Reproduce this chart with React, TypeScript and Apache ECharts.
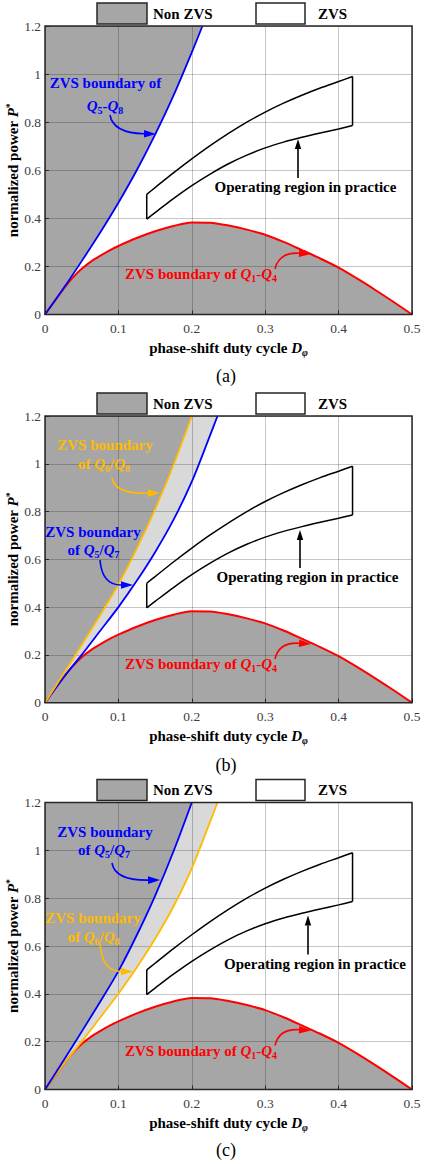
import React, { useEffect, useRef } from 'react';
import * as echarts from 'echarts';

type Pt = [number, number];

// Axis ticks
const dutyTicks = [0, 0.1, 0.2, 0.3, 0.4, 0.5];
const powerTicks = [0, 0.2, 0.4, 0.6, 0.8, 1, 1.2];

// ZVS boundary of the primary switches Q1-Q4 (duty cycle, normalized power)
const q1q4Boundary: Pt[] = [
  [0, 0], [0.0125, 0.053], [0.025, 0.105], [0.0375, 0.152], [0.05, 0.19], [0.0625, 0.22],
  [0.075, 0.244], [0.0875, 0.266], [0.1, 0.285], [0.125, 0.318], [0.15, 0.346], [0.175, 0.368],
  [0.2, 0.383], [0.225, 0.382], [0.25, 0.37], [0.275, 0.353], [0.3, 0.332], [0.325, 0.302],
  [0.35, 0.268], [0.375, 0.233], [0.4, 0.195], [0.425, 0.15], [0.45, 0.102], [0.475, 0.052],
  [0.5, 0],
];

// ZVS boundary of Q5-Q8 (symmetric case)
const q5q8Boundary: Pt[] = [
  [0, 0], [0.025, 0.108], [0.05, 0.222], [0.075, 0.34], [0.1, 0.465], [0.125, 0.6],
  [0.15, 0.748], [0.175, 0.91], [0.2, 1.09], [0.2145, 1.2],
];

// Split boundaries: the steeper and the shallower of Q5/Q7 and Q6/Q8
const steepBoundary: Pt[] = [
  [0, 0], [0.025, 0.12], [0.05, 0.242], [0.075, 0.366], [0.1, 0.495], [0.125, 0.645],
  [0.15, 0.81], [0.175, 0.995], [0.2, 1.2],
];
const shallowBoundary: Pt[] = [
  [0, 0], [0.025, 0.105], [0.05, 0.2], [0.075, 0.3], [0.1, 0.4], [0.125, 0.51],
  [0.15, 0.63], [0.175, 0.765], [0.2, 0.925], [0.225, 1.12], [0.235, 1.2],
];

// Operating region in practice
const regionUpper: Pt[] = [
  [0.1386, 0.5], [0.15, 0.528], [0.175, 0.589], [0.2, 0.647], [0.225, 0.702], [0.25, 0.753],
  [0.275, 0.8], [0.3, 0.842], [0.325, 0.879], [0.35, 0.912], [0.375, 0.942], [0.4, 0.969],
  [0.419, 0.99],
];
const regionLower: Pt[] = [
  [0.1386, 0.397], [0.15, 0.424], [0.175, 0.482], [0.2, 0.536], [0.225, 0.584], [0.25, 0.627],
  [0.275, 0.663], [0.3, 0.693], [0.325, 0.717], [0.35, 0.737], [0.375, 0.755], [0.4, 0.772],
  [0.419, 0.786],
];

const panelCaptions = ['(a)', '(b)', '(c)'];
const legendLabels = ['Non ZVS', 'ZVS'];

const SERIF = '"Liberation Serif", "Times New Roman", serif';
const DARK = '#a6a6a6';
const LIGHT = '#d9d9d9';
const RED = '#ff0000';
const BLUE = '#0000ff';
const ORANGE = '#ffbb00';
const FRAME = '#262626';

const GRID_LEFT = 45;
const GRID_WIDTH = 367;

interface Boundary { data: Pt[]; color: string; fill: string }
interface Note { x: number; dy: number; color: string; text: string }
interface Arrow { sx: number; sdy: number; cx: number; cdy: number; tx: number; tdy: number; color: string }
interface Panel {
  top: number; height: number; captionDy: number;
  boundaries: Boundary[]; notes: Note[]; arrows: Arrow[];
}

const q = (a: string, b: string, sep: string) => `{q|Q}{s|${a}}{b|${sep}}{q|Q}{s|${b}}`;

const regionNote = (x: number): Note => ({ x, dy: 161, color: '#000', text: '{b|Operating region in practice}' });
const q14Note: Note = { x: 201, dy: 248, color: RED, text: `{b|ZVS boundary of }${q('1', '4', '-')}` };
const q14Arrow: Arrow = { sx: 275, sdy: 243, cx: 279, cdy: 226, tx: 311, tdy: 228, color: RED };
const regionArrow = (x: number, tdy: number): Arrow => ({ sx: x, sdy: 152, cx: x, cdy: (152 + tdy) / 2, tx: x, tdy, color: '#000' });

const panels: Panel[] = [
  {
    top: 26, height: 288.5, captionDy: 350,
    boundaries: [{ data: q5q8Boundary, color: BLUE, fill: DARK }],
    notes: [
      { x: 105.5, dy: 57, color: BLUE, text: '{b|ZVS boundary of}' },
      { x: 105, dy: 80, color: BLUE, text: q('5', '8', '-') },
      regionNote(305.5), q14Note,
    ],
    arrows: [
      { sx: 110, sdy: 89, cx: 113, cdy: 107, tx: 156, tdy: 108, color: BLUE },
      regionArrow(298, 113), q14Arrow,
    ],
  },
  {
    top: 416, height: 286.7, captionDy: 349,
    boundaries: [
      { data: shallowBoundary, color: BLUE, fill: LIGHT },
      { data: steepBoundary, color: ORANGE, fill: DARK },
    ],
    notes: [
      { x: 105, dy: 29, color: ORANGE, text: '{b|ZVS boundary}' },
      { x: 104, dy: 48, color: ORANGE, text: `{b|of }${q('6', '8', '/')}` },
      { x: 93, dy: 116, color: BLUE, text: '{b|ZVS boundary}' },
      { x: 93.5, dy: 134, color: BLUE, text: `{b|of }${q('5', '7', '/')}` },
      regionNote(307.5), q14Note,
    ],
    arrows: [
      { sx: 112, sdy: 62, cx: 115, cdy: 78, tx: 160, tdy: 77, color: ORANGE },
      { sx: 100, sdy: 144, cx: 102, cdy: 169, tx: 133, tdy: 169, color: BLUE },
      regionArrow(300, 114), q14Arrow,
    ],
  },
  {
    top: 802.5, height: 287, captionDy: 347.5,
    boundaries: [
      { data: shallowBoundary, color: ORANGE, fill: LIGHT },
      { data: steepBoundary, color: BLUE, fill: DARK },
    ],
    notes: [
      { x: 105, dy: 29.5, color: BLUE, text: '{b|ZVS boundary}' },
      { x: 104, dy: 47.5, color: BLUE, text: `{b|of }${q('5', '7', '/')}` },
      { x: 93, dy: 115.5, color: ORANGE, text: '{b|ZVS boundary}' },
      { x: 93.5, dy: 134, color: ORANGE, text: `{b|of }${q('6', '8', '/')}` },
      regionNote(315), q14Note,
    ],
    arrows: [
      { sx: 112, sdy: 60.5, cx: 115, cdy: 78, tx: 160, tdy: 77.5, color: BLUE },
      { sx: 100, sdy: 140.5, cx: 102, cdy: 169, tx: 133, tdy: 169, color: ORANGE },
      regionArrow(308, 113), q14Arrow,
    ],
  },
];

const noteRich = (color: string) => ({
  b: { fontFamily: SERIF, fontWeight: 'bold', fontSize: 15, fill: color, lineHeight: 18 },
  q: { fontFamily: SERIF, fontWeight: 'bold', fontStyle: 'italic', fontSize: 15, fill: color, lineHeight: 18 },
  s: { fontFamily: SERIF, fontWeight: 'bold', fontSize: 10, fill: color, lineHeight: 10, padding: [9, 0, 0, 0] },
});

function arrowShapes(a: Arrow, top: number) {
  const sy = top + a.sdy, cy = top + a.cdy, ty = top + a.tdy;
  const dx = a.tx - a.cx, dy = ty - cy;
  const len = Math.hypot(dx, dy) || 1;
  const ux = dx / len, uy = dy / len;
  const head = a.color === '#000' ? 10 : 12;
  const half = a.color === '#000' ? 3.2 : 3.8;
  const bx = a.tx - ux * head, by = ty - uy * head;
  const px = -uy, py = ux;
  return [
    {
      type: 'bezierCurve', z: 40, silent: true,
      shape: { x1: a.sx, y1: sy, x2: bx, y2: by, cpx1: a.cx, cpy1: cy },
      style: { stroke: a.color, lineWidth: 1.6, fill: null },
    },
    {
      type: 'polygon', z: 40, silent: true,
      shape: { points: [[a.tx, ty], [bx + px * half, by + py * half], [bx - px * half, by - py * half]] },
      style: { fill: a.color },
    },
  ];
}

function buildOption() {
  const grid = panels.map((p) => ({
    left: GRID_LEFT, width: GRID_WIDTH, top: p.top, height: p.height, show: false,
    containLabel: false, outerBoundsMode: 'none',
  }));

  const tickLabel = { color: '#404040', fontFamily: SERIF, fontSize: 13.5 };
  const splitLine = { show: true, lineStyle: { color: 'rgba(0,0,0,0.22)', width: 1 } };
  const axisTick = { show: true, inside: true, length: 4, lineStyle: { color: FRAME, width: 1 } };

  const xAxis = panels.map((_, i) => ({
    gridIndex: i, type: 'value', z: 2,
    min: dutyTicks[0], max: dutyTicks[dutyTicks.length - 1], interval: dutyTicks[1] - dutyTicks[0],
    axisLine: { show: false }, axisTick, splitLine,
    axisLabel: { ...tickLabel, margin: 7 },
    name: 'phase-shift duty cycle {i|D}{s|φ}', nameLocation: 'middle', nameGap: 24,
    nameMoveOverlap: false,
    nameTextStyle: {
      fontFamily: SERIF, fontWeight: 'bold', fontSize: 15, color: '#000', lineHeight: 18,
      rich: {
        i: { fontFamily: SERIF, fontWeight: 'bold', fontStyle: 'italic', fontSize: 15, color: '#000', lineHeight: 18 },
        s: { fontFamily: SERIF, fontWeight: 'bold', fontStyle: 'italic', fontSize: 10, color: '#000', lineHeight: 10, padding: [9, 0, 0, 0] },
      },
    },
  }));

  const yAxis = panels.map((_, i) => ({
    gridIndex: i, type: 'value', z: 2,
    min: powerTicks[0], max: powerTicks[powerTicks.length - 1], interval: powerTicks[1] - powerTicks[0],
    axisLine: { show: false }, axisTick, splitLine,
    axisLabel: { ...tickLabel, margin: 4 },
    name: 'normalized power {i|P}{p|*}', nameLocation: 'middle', nameGap: 23,
    nameMoveOverlap: false,
    nameTextStyle: {
      fontFamily: SERIF, fontWeight: 'bold', fontSize: 15, color: '#000', lineHeight: 18,
      rich: {
        i: { fontFamily: SERIF, fontWeight: 'bold', fontStyle: 'italic', fontSize: 15, color: '#000', lineHeight: 18 },
        p: { fontFamily: SERIF, fontWeight: 'bold', fontSize: 10, color: '#000', lineHeight: 10, padding: [0, 0, 8, 0] },
      },
    },
  }));

  const series: any[] = [];
  const curve = (i: number, data: Pt[], color: string, width: number, smooth = true) => ({
    type: 'line', xAxisIndex: i, yAxisIndex: i, data, symbol: 'none', silent: true, z: 3,
    smooth: smooth ? 0.3 : false,
    lineStyle: { color, width },
  });
  const fill = (i: number, data: Pt[], color: string, origin: string) => ({
    type: 'line', xAxisIndex: i, yAxisIndex: i, data, symbol: 'none', silent: true, z: 1,
    smooth: 0.3,
    lineStyle: { width: 0, opacity: 0 },
    areaStyle: { color, opacity: 1, origin },
  });

  panels.forEach((p, i) => {
    series.push(fill(i, q1q4Boundary, DARK, 'start'));
    p.boundaries.forEach((b) => series.push(fill(i, b.data, b.fill, 'end')));
    series.push(curve(i, q1q4Boundary, RED, 2));
    p.boundaries.forEach((b) => series.push(curve(i, b.data, b.color, 1.8)));
    series.push(curve(i, regionUpper, '#000', 1.5));
    series.push(curve(i, regionLower, '#000', 1.5));
    series.push(curve(i, [regionLower[0], regionUpper[0]], '#000', 1.5, false));
    series.push(curve(i, [regionLower[regionLower.length - 1], regionUpper[regionUpper.length - 1]], '#000', 1.5, false));
  });

  const graphic: any[] = [];
  panels.forEach((p, i) => {
    // plot frame
    graphic.push({
      type: 'rect', z: 30, silent: true,
      shape: { x: GRID_LEFT, y: p.top, width: GRID_WIDTH, height: p.height },
      style: { fill: null, stroke: FRAME, lineWidth: 1.5 },
    });
    // legend boxes
    graphic.push({
      type: 'rect', z: 30, silent: true,
      shape: { x: 97, y: p.top - 23, width: 50, height: 21 },
      style: { fill: DARK, stroke: FRAME, lineWidth: 1.5 },
    });
    graphic.push({
      type: 'text', z: 30, silent: true, x: 153, y: p.top - 12.5,
      style: { text: legendLabels[0], font: `bold 15px ${SERIF}`, fill: '#000', align: 'left', verticalAlign: 'middle' },
    });
    graphic.push({
      type: 'rect', z: 30, silent: true,
      shape: { x: 256, y: p.top - 23, width: 49, height: 21 },
      style: { fill: '#fff', stroke: FRAME, lineWidth: 1.5 },
    });
    graphic.push({
      type: 'text', z: 30, silent: true, x: 318, y: p.top - 12.5,
      style: { text: legendLabels[1], font: `bold 15px ${SERIF}`, fill: '#000', align: 'left', verticalAlign: 'middle' },
    });
    // caption
    graphic.push({
      type: 'text', z: 30, silent: true, x: 226, y: p.top + p.captionDy,
      style: { text: panelCaptions[i], font: `18px ${SERIF}`, fill: '#000', align: 'center', verticalAlign: 'middle' },
    });
    // annotations
    p.notes.forEach((n) => {
      graphic.push({
        type: 'text', z: 40, silent: true, x: n.x, y: p.top + n.dy,
        style: {
          text: n.text, rich: noteRich(n.color), fill: n.color,
          font: `bold 15px ${SERIF}`, align: 'center', verticalAlign: 'middle',
        },
      });
    });
    p.arrows.forEach((a) => graphic.push(...arrowShapes(a, p.top)));
  });

  return { animation: false, backgroundColor: '#fff', grid, xAxis, yAxis, series, graphic };
}

export default function App() {
  const ref = useRef<HTMLDivElement>(null);
  useEffect(() => {
    if (!ref.current) return;
    const chart = echarts.init(ref.current, undefined, { renderer: 'svg' });
    chart.setOption(buildOption() as any);
    return () => chart.dispose();
  }, []);
  return (
    <div
      ref={ref}
      style={{ position: 'absolute', left: 0, top: 0, width: 424, height: 1164, background: '#fff' }}
    />
  );
}
